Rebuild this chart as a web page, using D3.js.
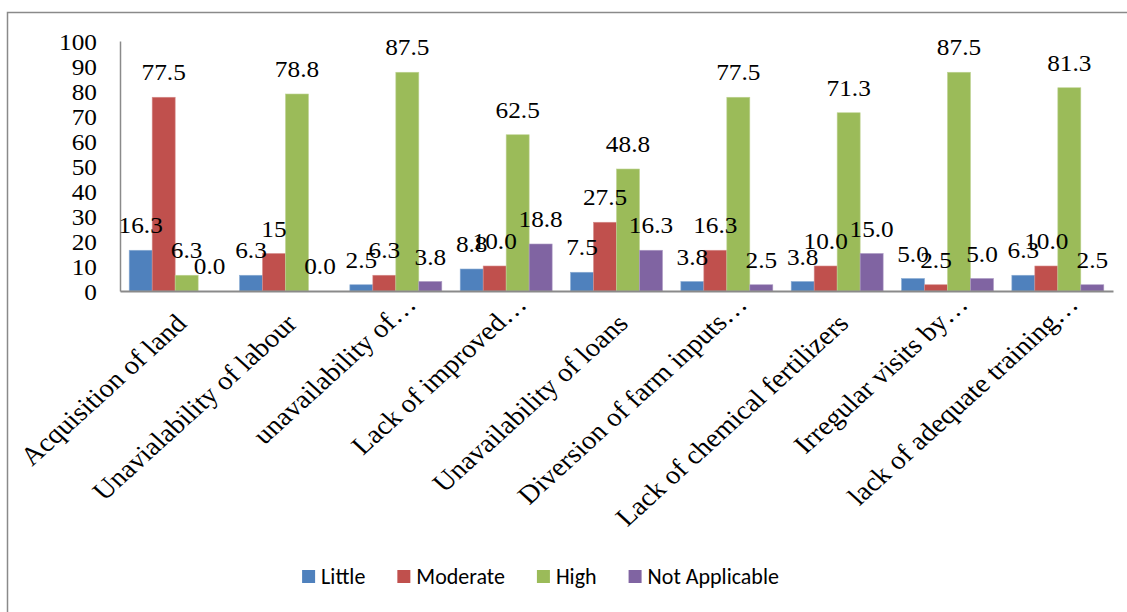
<!DOCTYPE html>
<html>
<head>
<meta charset="utf-8">
<script src="https://cdn.jsdelivr.net/npm/d3@7"></script>
<style>
  html, body { margin: 0; padding: 0; background: #fff; }
  svg { display: block; }
</style>
</head>
<body>
<svg id="chart" width="1127" height="612"></svg>
<script>
// Constraint categories (as printed on the axis, truncated where the text is too long)
const categories = [
  "Acquisition of land",
  "Unavialability of labour",
  "unavailability of\u2026",
  "Lack of improved\u2026",
  "Unavailability of loans",
  "Diversion of farm inputs\u2026",
  "Lack of chemical fertilizers",
  "Irregular visits by\u2026",
  "lack of adequate training\u2026"
];

const seriesNames = ["Little", "Moderate", "High", "Not Applicable"];

// Percentage of respondents per severity level
const little        = [16.3, 6.3, 2.5, 8.8, 7.5, 3.8, 3.8, 5.0, 6.3];
const moderate      = [77.5, 15, 6.3, 10.0, 27.5, 16.3, 10.0, 2.5, 10.0];
const high          = [6.3, 78.8, 87.5, 62.5, 48.8, 77.5, 71.3, 87.5, 81.3];
const notApplicable = [0.0, 0.0, 3.8, 18.8, 16.3, 2.5, 15.0, 5.0, 2.5];

const yTicks = [0, 10, 20, 30, 40, 50, 60, 70, 80, 90, 100];

const colors = ["#4F81BD", "#C0504D", "#9BBB59", "#8064A2"];

// Label text: one decimal, except the value that was printed as a whole number
const labelText = (v, s, i) => (s === 1 && i === 1) ? String(v) : d3.format(".1f")(v);

const seriesValues = [little, moderate, high, notApplicable];
const rows = categories.map((c, i) => ({
  category: c,
  values: seriesNames.map((s, k) => ({ series: k, name: s, value: seriesValues[k][i], index: i }))
}));

const svg = d3.select("#chart");
const serif = "'Liberation Serif', 'Times New Roman', serif";
const stretch = 1.1;   // serif text is drawn slightly wide

// Outer chart frame
svg.append("rect")
  .attr("x", 7.5).attr("y", 12.5)
  .attr("width", 1140).attr("height", 620)
  .attr("fill", "none").attr("stroke", "#8a8a8a").attr("stroke-width", 1.5);

const plot = { left: 120, right: 1113, top: 41, bottom: 291 };

const x0 = d3.scaleBand().domain(categories).range([plot.left, plot.right]).padding(0);
const x1 = d3.scaleBand().domain(d3.range(seriesNames.length))
  .range([0, x0.bandwidth()]).paddingInner(0).paddingOuter(0.4);
const y = d3.scaleLinear().domain([0, 100]).range([plot.bottom, plot.top]);

// Y axis
const yAxis = svg.append("g")
  .attr("transform", `translate(${plot.left},0)`)
  .call(d3.axisLeft(y).tickValues(yTicks).tickSize(0).tickPadding(0));
yAxis.select(".domain").attr("stroke", "#8a8a8a").attr("stroke-width", 1.5);
yAxis.selectAll(".tick text")
  .attr("x", 0)
  .attr("dy", "0.36em")
  .attr("transform", `translate(-23,0) scale(${stretch},1)`)
  .attr("font-family", serif)
  .attr("font-size", 23)
  .attr("fill", "#000");

// Bars
const groups = svg.append("g").selectAll("g")
  .data(rows).join("g")
  .attr("transform", d => `translate(${x0(d.category)},0)`);

groups.selectAll("rect")
  .data(d => d.values).join("rect")
  .attr("x", d => x1(d.series))
  .attr("width", x1.bandwidth())
  .attr("y", d => y(d.value))
  .attr("height", d => y(0) - y(d.value))
  .attr("fill", d => colors[d.series])
  .attr("stroke", d => d3.interpolateRgb(colors[d.series], "#ffffff")(0.35))
  .attr("stroke-width", d => d.value > 0 ? 0.6 : 0);

// X axis line
const xAxis = svg.append("g")
  .attr("transform", `translate(0,${plot.bottom})`)
  .call(d3.axisBottom(x0).tickSize(0).tickFormat(""));
xAxis.select(".domain").attr("stroke", "#8a8a8a").attr("stroke-width", 2);

// Value labels above each bar
groups.selectAll("text.value")
  .data(d => d.values).join("text")
  .attr("class", "value")
  .attr("transform", d => `translate(${x1(d.series) + x1.bandwidth() / 2},${y(d.value) - 17}) scale(${stretch},1)`)
  .attr("text-anchor", "middle")
  .attr("font-family", serif)
  .attr("font-size", 23)
  .attr("fill", "#000")
  .text(d => labelText(d.value, d.series, d.index));

// Rotated category labels
svg.append("g").selectAll("text")
  .data(categories).join("text")
  .attr("transform", c => {
    const cut = c.endsWith("\u2026");
    const cx = x0(c) + x0.bandwidth() / 2 + (cut ? 22 : 13);
    const cy = plot.bottom + (cut ? 15 : 34);
    return `translate(${cx},${cy}) scale(${stretch},1) rotate(-45)`;
  })
  .attr("text-anchor", "end")
  .attr("font-family", serif)
  .attr("font-size", 26)
  .attr("fill", "#000")
  .text(c => c);

// Legend
const legendGap = 32;
const legend = svg.append("g");
const items = legend.selectAll("g").data(seriesNames).join("g");
items.append("rect")
  .attr("y", -14).attr("width", 13).attr("height", 13)
  .attr("fill", (d, i) => colors[i]);
items.append("text")
  .attr("x", 19)
  .attr("font-family", "Carlito, Lato, 'Open Sans', sans-serif")
  .attr("font-size", 22)
  .attr("fill", "#000")
  .text(d => d);

let cursor = 0;
items.each(function () {
  const g = d3.select(this);
  g.attr("transform", `translate(${cursor},0)`);
  cursor += 19 + g.select("text").node().getComputedTextLength() + legendGap;
});
const legendWidth = cursor - legendGap;
legend.attr("transform", `translate(${540.5 - legendWidth / 2},584)`);
</script>
</body>
</html>
